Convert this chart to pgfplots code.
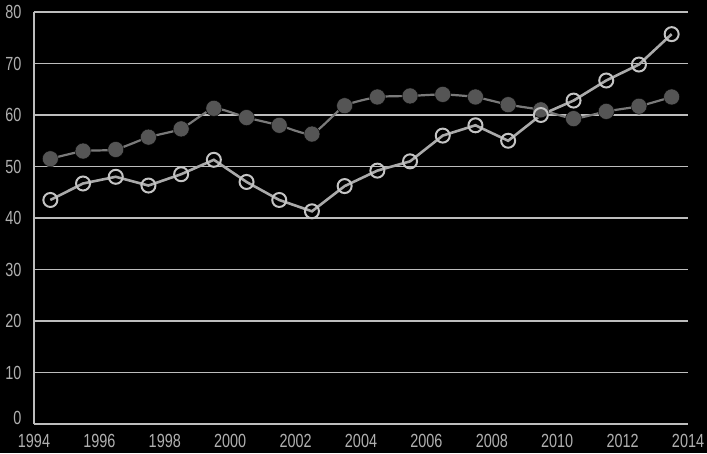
\documentclass[border=0pt]{standalone}
\usepackage{fontspec}
\setmainfont{Liberation Sans}[FakeStretch=0.76]
\usepackage{pgfplots}
\usepackage{pgfplotstable}
\pgfplotsset{compat=1.18}

\definecolor{gridc}{HTML}{BDBDBD}
\definecolor{labc}{HTML}{B0B0B0}
\definecolor{darkdot}{HTML}{555555}
\definecolor{darkline}{HTML}{7A7A7A}
\definecolor{lightline}{HTML}{AAAAAA}
\definecolor{lightring}{HTML}{C4C4C4}

\pgfplotstableread{
year   dark   light
1994.5 51.5   43.5
1995.5 53.0   46.7
1996.5 53.3   48.0
1997.5 55.7   46.3
1998.5 57.3   48.5
1999.5 61.3   51.3
2000.5 59.5   47.0
2001.5 58.0   43.5
2002.5 56.3   41.3
2003.5 61.8   46.2
2004.5 63.5   49.2
2005.5 63.7   51.0
2006.5 64.0   56.0
2007.5 63.5   58.0
2008.5 62.0   55.0
2009.5 61.0   60.0
2010.5 59.3   62.8
2011.5 60.7   66.7
2012.5 61.7   69.8
2013.5 63.5   75.7
}\datatable

\begin{document}
\begin{tikzpicture}
\path[use as bounding box, fill=black] (0,0) rectangle (707pt,453pt);
\begin{axis}[
  scale only axis,
  width=654pt, height=412pt,
  at={(34pt,29pt)}, anchor=south west,
  xmin=1994, xmax=2014, ymin=0, ymax=80,
  xtick={1994,1996,...,2014},
  ytick={10,20,...,80},
  extra y ticks={0},
  extra y tick style={yticklabel style={yshift=6pt}},
  axis lines*=left,
  axis line style={gridc, line width=1.3pt},
  ymajorgrids,
  grid style={gridc, line width=1.1pt},
  major tick length=0pt,
  /pgf/number format/1000 sep={},
  /pgf/number format/assume math mode=true,
  tick label style={text=labc, font=\fontsize{19}{21}\selectfont},
  xticklabel style={yshift=-7pt},
  yticklabel style={xshift=-9pt},
  clip=false,
]
\addplot[only marks, mark=*, mark size=8pt, mark options={fill=darkdot, draw=none}]
  table[x=year, y=dark] {\datatable};
\addplot[no marks, darkline, line width=2.2pt, smooth, tension=0.3]
  table[x=year, y=dark] {\datatable};
\addplot[lightline, line width=2.6pt, mark=o, mark size=7pt,
  mark options={draw=lightring, fill=black, line width=2pt}]
  table[x=year, y=light] {\datatable};
\end{axis}
\end{tikzpicture}
\end{document}
